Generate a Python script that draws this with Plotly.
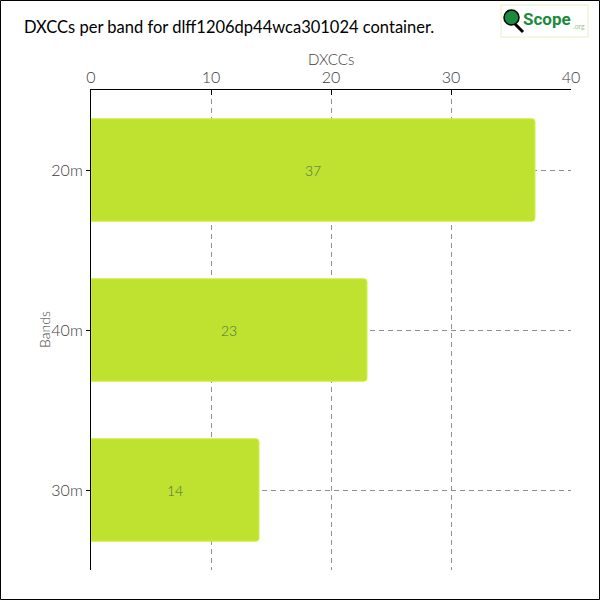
import plotly.graph_objects as go

# data
bands = ["20m", "40m", "30m"]
dxccs = [37, 23, 14]
x_ticks = [0, 10, 20, 30, 40]
title_text = "DXCCs per band for dlff1206dp44wca301024 container."

FONT = "Lato, Open Sans, sans-serif"
BAR = "#bee22f"
TXT = "#3a3a3a"
GRID = "#8f8f8f"

fig = go.Figure()
fig.add_trace(
    go.Bar(
        x=dxccs, y=bands, orientation="h",
        width=0.64,
        marker=dict(color=BAR, line=dict(color="#d2f03c", width=1), cornerradius=3),
        text=dxccs, textposition="inside", insidetextanchor="middle",
        textfont=dict(family=FONT, size=14, color="#4f6e52", weight=300),
        hoverinfo="skip",
    )
)

fig.update_xaxes(
    side="top", range=[0, 40], tickvals=x_ticks,
    showgrid=True, gridcolor=GRID, griddash="5px,4px", gridwidth=1,
    showline=True, linecolor="black", linewidth=1,
    ticks="inside", ticklen=5, tickcolor="black",
    tickfont=dict(family=FONT, size=16, color=TXT, weight=300),
    zeroline=False,
)
fig.update_yaxes(
    autorange="reversed",
    showgrid=True, gridcolor=GRID, griddash="5px,4px", gridwidth=1,
    showline=True, linecolor="black", linewidth=1,
    ticks="outside", ticklen=4, tickcolor="black",
    tickfont=dict(family=FONT, size=16, color=TXT, weight=300),
)

# axis titles placed as annotations (plot area 480px, margins l91 t90)
fig.add_annotation(xref="paper", yref="paper", x=0.5, y=1 + 31 / 480,
                   xanchor="center", yanchor="middle", showarrow=False,
                   text="DXCCs", font=dict(family=FONT, size=15, color=TXT, weight=300))
fig.add_annotation(xref="paper", yref="paper", x=-47 / 480, y=0.5,
                   xanchor="center", yanchor="middle", showarrow=False, textangle=-90,
                   text="Bands", font=dict(family=FONT, size=14, color=TXT, weight=300))

# outer border of the image
fig.add_shape(type="rect", xref="paper", yref="paper",
              x0=-90.5 / 480, x1=508.5 / 480, y0=-29.5 / 480, y1=1 + 89.5 / 480,
              line=dict(color="black", width=1), layer="above")

# logo
fig.add_shape(type="rect", xref="paper", yref="paper",
              x0=410 / 480, x1=497 / 480, y0=1 + 53 / 480, y1=1 + 85 / 480,
              line=dict(color="#e8f0c0", width=1), fillcolor="white")
fig.add_shape(type="line", xref="paper", yref="paper",
              x0=423 / 480, x1=432 / 480, y0=1 + 67 / 480, y1=1 + 58 / 480,
              line=dict(color="black", width=3))
fig.add_shape(type="circle", xref="paper", yref="paper",
              x0=413 / 480, x1=428 / 480, y0=1 + 65 / 480, y1=1 + 80 / 480,
              line=dict(color="black", width=1.5), fillcolor="#1a8a3c")
fig.add_annotation(xref="paper", yref="paper", x=430 / 480, y=1 + 71 / 480,
                   xanchor="left", yanchor="middle", showarrow=False,
                   text="<b>Scope</b>",
                   font=dict(family="Roboto", size=17, color="#1a8a3c"))
fig.add_annotation(xref="paper", yref="paper", x=496 / 480, y=1 + 64 / 480,
                   xanchor="right", yanchor="middle", showarrow=False,
                   text=".org", font=dict(family=FONT, size=7, color="#9ac58a"))

fig.update_layout(
    width=600, height=600,
    margin=dict(l=91, r=29, t=90, b=30, autoexpand=False),
    paper_bgcolor="white", plot_bgcolor="white",
    title=dict(text=title_text, x=24 / 600, xanchor="left", y=1 - 27 / 600, yanchor="middle",
               font=dict(family=FONT, size=16.5, color="black")),
    showlegend=False,
)

fig.write_html("out.html", config={"displayModeBar": False},
               post_script="document.body.style.margin='0';")
